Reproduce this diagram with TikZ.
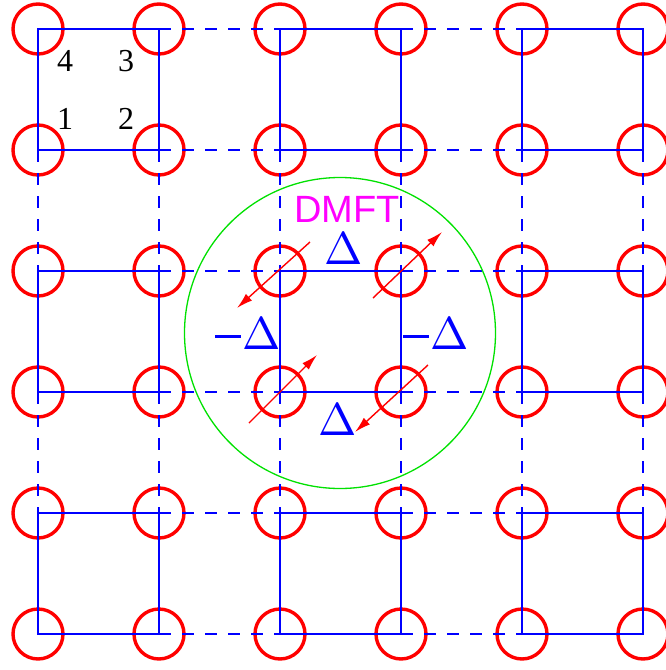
\documentclass[tikz,border=0pt]{standalone}
\usepackage{fontspec}
\usepackage{unicode-math}
\setmainfont{Liberation Serif}
\setmathfont{Latin Modern Math}
\newfontfamily\dmftfont{Liberation Sans}
\usetikzlibrary{calc,arrows.meta}
\definecolor{dmftgreen}{RGB}{0,225,0}
\definecolor{dmftmagenta}{RGB}{255,0,255}
\definecolor{sitered}{RGB}{255,0,0}
\definecolor{bondblue}{RGB}{0,0,255}
\newcommand{\mgap}{\rule[11pt]{26pt}{3.4pt}\hspace{1.5pt}$\Delta$}
\begin{document}
\begin{tikzpicture}[x=1pt, y=-1pt, >={Latex[length=16pt,width=9pt]},
  site/.style={circle, draw=sitered, line width=3.4pt, minimum size=50pt, inner sep=0pt},
  bond/.style={bondblue, line width=1.7pt},
  link/.style={bondblue, line width=1.7pt, dash pattern=on 12pt off 11pt},
  spin/.style={sitered, line width=1.4pt, ->},
  gap/.style={bondblue, inner sep=0pt, font=\fontsize{46}{46}\selectfont},
  idx/.style={inner sep=0pt, font=\fontsize{32}{32}\selectfont}]
\useasboundingbox (0,0) rectangle (666,670);
% lattice sites
\foreach \i in {0,...,5}
  \foreach \j in {0,...,5}
    \node[site] (s\i\j) at ({38+121*\i},{29+121*\j}) {};
% links between plaquettes
\foreach \i in {1,3} {
  \pgfmathtruncatemacro{\k}{\i+1}
  \foreach \j in {0,...,5} {
    \draw[link] (s\i\j.center) -- (s\k\j.center);
    \draw[link] (s\j\i.center) -- (s\j\k.center);
  }
}
% plaquettes
\foreach \i in {0,2,4} {
  \pgfmathtruncatemacro{\k}{\i+1}
  \foreach \j in {0,2,4} {
    \pgfmathtruncatemacro{\l}{\j+1}
    \draw[bond] (s\i\j.center) -- (s\k\j.center) -- (s\k\l.center) -- (s\i\l.center) -- cycle;
  }
}
% site numbering
\node[idx] (n4) at (65,61) {4};
\node[idx] (n3) at (126,61) {3};
\node[idx] (n1) at (65,119) {1};
\node[idx] (n2) at (126,119) {2};
% DMFT cluster
\node[circle, draw=dmftgreen, line width=1.3pt, minimum size=311pt, inner sep=0pt] (dmft) at (340,333) {};
\node[dmftmagenta, inner sep=0pt, font=\dmftfont\fontsize{38}{38}\selectfont] (lbl) at (347,209) {DMFT};
% spins
\draw[spin] ($(s22.center)+(30,-29)$) -- ($(s22.center)+(-43,37)$);
\draw[spin] ($(s32.center)+(-28,27)$) -- ($(s32.center)+(41,-39)$);
\draw[spin] ($(s23.center)+(-31,31)$) -- ($(s23.center)+(37,-37)$);
\draw[spin] ($(s33.center)+(27,-27)$) -- ($(s33.center)+(-46,40)$);
% pairing amplitudes
\node[gap] (dtop) at (344,248) {$\Delta$};
\node[gap] (dbot) at (338,419) {$\Delta$};
\node[gap] (dlft) at (248,333) {\mgap};
\node[gap] (drgt) at (436,333) {\mgap};
\end{tikzpicture}
\end{document}
